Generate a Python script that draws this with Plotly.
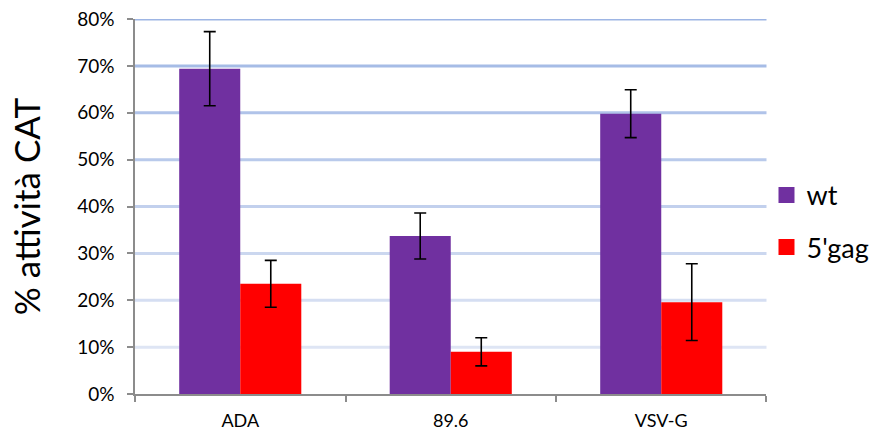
import plotly.graph_objects as go

categories = ["ADA", "89.6", "VSV-G"]
wt_values = [0.694, 0.337, 0.598]
wt_errors = [0.079, 0.049, 0.051]
gag_values = [0.235, 0.090, 0.196]
gag_errors = [0.050, 0.030, 0.082]
y_ticks = [0, 0.1, 0.2, 0.3, 0.4, 0.5, 0.6, 0.7, 0.8]
y_tick_labels = ["0%", "10%", "20%", "30%", "40%", "50%", "60%", "70%", "80%"]

WT_COLOR = "#7030A0"
GAG_COLOR = "#FF0000"
err_style = dict(type="data", visible=True, color="#000000", thickness=1.6, width=6)

fig = go.Figure()
fig.add_trace(go.Bar(
    x=categories, y=wt_values, name="wt", showlegend=False,
    marker=dict(color=WT_COLOR, line=dict(width=0)),
    error_y=dict(array=wt_errors, **err_style),
))
fig.add_trace(go.Bar(
    x=categories, y=gag_values, name="5'gag", showlegend=False,
    marker=dict(color=GAG_COLOR, line=dict(width=0)),
    error_y=dict(array=gag_errors, **err_style),
))
# legend entries with larger square swatches
for name, col in [("wt", WT_COLOR), ("5'gag", GAG_COLOR)]:
    fig.add_trace(go.Scatter(
        x=[None], y=[None], mode="markers", name=name, legendgroup=name,
        marker=dict(symbol="square", size=18, color=col),
    ))

# gridlines with a fading blue, lighter toward the bottom
top_rgb = (157, 181, 228)
bot_rgb = (222, 229, 244)
shapes = []
for v in y_ticks[1:]:
    t = (v - 0.1) / 0.7
    rgb = tuple(round(b + (a - b) * t) for a, b in zip(top_rgb, bot_rgb))
    shapes.append(dict(
        type="line", xref="paper", yref="y", x0=0, x1=1, y0=v, y1=v,
        line=dict(color="rgb(%d,%d,%d)" % rgb, width=3), layer="below",
    ))

fig.update_layout(
    width=873, height=434,
    margin=dict(l=135, r=104, t=19, b=40),
    paper_bgcolor="white", plot_bgcolor="white",
    barmode="group", bargap=0.42, bargroupgap=0,
    font=dict(family="Lato, Noto Sans, sans-serif", color="#000000"),
    legend=dict(
        xref="container", yref="container",
        x=0.878, xanchor="left", y=0.49, yanchor="middle",
        font=dict(size=27), itemwidth=30, tracegroupgap=14,
        bgcolor="rgba(0,0,0,0)", itemsizing="trace",
    ),
    showlegend=True,
    shapes=shapes,
)
fig.update_xaxes(
    showline=True, linecolor="#8C8C8C", linewidth=1.5,
    ticks="outside", ticklen=6, tickcolor="#8C8C8C", tickwidth=1.5,
    tickson="boundaries", showgrid=False, automargin=False,
    tickfont=dict(size=18), ticklabelstandoff=10,
)
fig.update_yaxes(
    range=[0, 0.8], tickvals=y_ticks, ticktext=y_tick_labels,
    showline=True, linecolor="#8C8C8C", linewidth=1.5,
    ticks="outside", ticklen=6, tickcolor="#8C8C8C", tickwidth=1.5,
    showgrid=False, automargin=False,
    tickfont=dict(size=19), ticklabelstandoff=9,
    title=dict(text="% attività CAT", font=dict(size=35), standoff=26),
    zeroline=False,
)
fig.write_html("out.html", config={"displayModeBar": False},
               post_script="document.body.style.margin='0';")
